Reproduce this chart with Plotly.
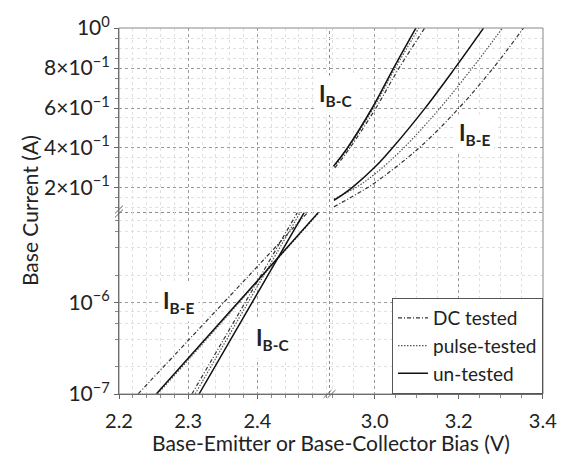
import numpy as np
import plotly.graph_objects as go

# ---------------- data ----------------
# lower-left panel (log current, 2.2-2.5 V)
v_be_dc_low = [2.2276, 2.300, 2.392, 2.4729]
i_be_dc_low = [1.0e-7, 3.86e-7, 2.15e-6, 9.8e-6]
v_be_pu_low = [2.2555, 2.302, 2.431, 2.4895]
i_be_pu_low = [1.0e-7, 2.45e-7, 3.13e-6, 9.8e-6]
v_be_un_low = [2.2539, 2.300, 2.430, 2.4883]
i_be_un_low = [1.0e-7, 2.46e-7, 3.13e-6, 9.8e-6]

v_bc_dc_low = [2.3053, 2.400, 2.458]
i_bc_dc_low = [1.0e-7, 1.71e-6, 9.8e-6]
v_bc_pu_low = [2.3100, 2.400, 2.462]
i_bc_pu_low = [1.0e-7, 1.51e-6, 9.8e-6]
v_bc_un_low = [2.3157, 2.430, 2.4678]
i_bc_un_low = [1.0e-7, 3.13e-6, 9.8e-6]

# upper-right panel (linear current, 2.9-3.4 V)
v_bc_un_high = [2.902, 2.935, 2.994, 3.045, 3.098]
i_bc_un_high = [0.309, 0.40, 0.60, 0.80, 1.00]
v_bc_pu_high = [2.903, 2.937, 2.997, 3.049, 3.105]
i_bc_pu_high = [0.305, 0.40, 0.60, 0.80, 1.00]
v_bc_dc_high = [2.905, 2.941, 3.003, 3.058, 3.119]
i_bc_dc_high = [0.300, 0.40, 0.60, 0.80, 1.00]

v_be_un_high = [2.903, 2.947, 3.000, 3.040, 3.119, 3.190, 3.259]
i_be_un_high = [0.137, 0.203, 0.303, 0.395, 0.597, 0.797, 1.00]
v_be_pu_high = [2.903, 2.957, 3.000, 3.068, 3.154, 3.227, 3.304]
i_be_pu_high = [0.145, 0.204, 0.269, 0.398, 0.596, 0.786, 1.00]
v_be_dc_high = [2.903, 2.974, 3.000, 3.1035, 3.197, 3.280, 3.354]
i_be_dc_high = [0.105, 0.190, 0.225, 0.396, 0.592, 0.795, 1.00]

x_left_ticks = [2.2, 2.3, 2.4]
x_left_text = ["2.2", "2.3", "2.4"]
x_right_ticks = [3.0, 3.2, 3.4]
x_right_text = ["3.0", "3.2", "3.4"]
y_low_ticks = [1e-7, 1e-6]
y_low_text = ["10<sup>−7</sup>", "10<sup>−6</sup>"]
y_low_minor = [2e-7, 4e-7, 6e-7, 8e-7, 2e-6, 4e-6, 6e-6, 8e-6]
y_high_ticks = [0.2, 0.4, 0.6, 0.8, 1.0]
y_high_text = ["2×10<sup>−1</sup>", "4×10<sup>−1</sup>", "6×10<sup>−1</sup>",
               "8×10<sup>−1</sup>", "10<sup>0</sup>"]

series_names = ["DC tested", "pulse-tested", "un-tested"]

# ---------------- styling ----------------
FONT = "Lato"
W, H = 569, 460
ML, MR, MT, MB = 119, 21, 21, 66
PW, PH = W - ML - MR, H - MT - MB
XS = 213 / PW          # x break (paper)
YS = 185 / PH          # y break (paper)

styles = {
    "DC tested": dict(color="#333333", width=1.2, dash="4px,2px,1px,2px"),
    "pulse-tested": dict(color="#555555", width=1.2, dash="1.5px,1.5px"),
    "un-tested": dict(color="#111111", width=1.5, dash="solid"),
}

fig = go.Figure()

low = {
    "DC tested": [(v_be_dc_low, i_be_dc_low), (v_bc_dc_low, i_bc_dc_low)],
    "pulse-tested": [(v_be_pu_low, i_be_pu_low), (v_bc_pu_low, i_bc_pu_low)],
    "un-tested": [(v_be_un_low, i_be_un_low), (v_bc_un_low, i_bc_un_low)],
}
high = {
    "DC tested": [(v_be_dc_high, i_be_dc_high), (v_bc_dc_high, i_bc_dc_high)],
    "pulse-tested": [(v_be_pu_high, i_be_pu_high), (v_bc_pu_high, i_bc_pu_high)],
    "un-tested": [(v_be_un_high, i_be_un_high), (v_bc_un_high, i_bc_un_high)],
}

for name in series_names:
    first = True
    for vx, iy in low[name]:
        fig.add_trace(go.Scatter(x=vx, y=iy, mode="lines", name=name,
                                 legendgroup=name, showlegend=first,
                                 line=styles[name], xaxis="x", yaxis="y",
                                 line_shape="spline"))
        first = False
for name in series_names:
    for vx, iy in high[name]:
        fig.add_trace(go.Scatter(x=vx, y=iy, mode="lines", name=name,
                                 legendgroup=name, showlegend=False,
                                 line=styles[name], xaxis="x2", yaxis="y2",
                                 line_shape="spline"))

# empty panels so that grids are drawn in all four quadrants
fig.add_trace(go.Scatter(x=[None], y=[None], xaxis="x", yaxis="y2",
                         showlegend=False, hoverinfo="skip"))
fig.add_trace(go.Scatter(x=[None], y=[None], xaxis="x2", yaxis="y",
                         showlegend=False, hoverinfo="skip"))

MAJ = dict(showgrid=True, gridcolor="#9a9a9a", griddash="dot", gridwidth=1,
           ticks="outside", ticklen=4, tickcolor="#666666", zeroline=False,
           showline=True, linecolor="#555555", linewidth=1)
MIN = dict(ticks="outside", ticklen=3, tickcolor="#888888",
           showgrid=True, gridcolor="#e0e0e0", gridwidth=1)
XF = dict(family=FONT, size=20, color="#222222")
YF = dict(family=FONT, size=21, color="#222222")

fig.update_layout(
    width=W, height=H,
    margin=dict(l=ML, r=MR, t=MT, b=MB),
    paper_bgcolor="white", plot_bgcolor="white",
    font=dict(family=FONT, color="#222222"),
    xaxis=dict(domain=[0, XS], range=[2.2, 2.5043], anchor="y",
               tickmode="array", tickvals=x_left_ticks, ticktext=x_left_text,
               tickfont=XF, ticklabelstandoff=5,
               minor=dict(dtick=0.02, tick0=2.2, **MIN), **MAJ),
    xaxis2=dict(domain=[XS, 1], range=[2.8925, 3.4005], anchor="y",
                tickmode="array", tickvals=x_right_ticks, ticktext=x_right_text,
                tickfont=XF, ticklabelstandoff=5,
                minor=dict(dtick=0.05, tick0=3.0, **MIN), **MAJ),
    yaxis=dict(domain=[0, YS], type="log", range=[-7, -5.01], anchor="x",
               tickmode="array", tickvals=y_low_ticks, ticktext=y_low_text,
               tickfont=YF,
               minor=dict(tickmode="array", tickvals=y_low_minor, **MIN), **MAJ),
    yaxis2=dict(domain=[YS, 1], range=[0.077, 1.0005], anchor="x",
                tickmode="array", tickvals=y_high_ticks, ticktext=y_high_text,
                tickfont=YF, minor=dict(dtick=0.05, tick0=0.0, **MIN), **MAJ),
    legend=dict(x=1, xanchor="right", y=0, yanchor="bottom",
                bgcolor="white", bordercolor="#555555", borderwidth=1,
                font=dict(family=FONT, size=19, color="#222222"),
                itemwidth=30, tracegroupgap=0),
    showlegend=True,
)

# frame and break lines
shapes = [
    dict(type="rect", xref="paper", yref="paper", x0=0, x1=1, y0=0, y1=1,
         line=dict(color="#888888", width=1), layer="above"),
    dict(type="line", xref="paper", yref="paper", x0=XS, x1=XS, y0=0, y1=1,
         line=dict(color="#8a8a8a", width=1, dash="dot"), layer="below"),
    dict(type="line", xref="paper", yref="paper", x0=0, x1=1, y0=YS, y1=YS,
         line=dict(color="#8a8a8a", width=1, dash="dot"), layer="below"),
]


def brk(cx, cy, segs):
    out = []
    for (ax, ay, bx, by) in segs:
        out.append(dict(type="line", xref="paper", yref="paper",
                        x0=cx + ax / PW, y0=cy + ay / PH,
                        x1=cx + bx / PW, y1=cy + by / PH,
                        line=dict(color="#666666", width=1), layer="above"))
    return out


shapes += brk(0, YS, [(-4, -5, 4, 3), (-4, -1, 4, 7)])
shapes += brk(XS, 0, [(-6, -4, 2, 4), (-2, -4, 6, 4)])
fig.update_layout(shapes=shapes)

lab_font = dict(family=FONT, size=22, color="#222222")
annots = [
    dict(x=2.9066, y=0.665, xref="x2", yref="y2", text="<b>I<sub>B-C</sub></b>"),
    dict(x=3.238, y=0.469, xref="x2", yref="y2", text="<b>I<sub>B-E</sub></b>"),
    dict(x=2.2857, y=np.log10(1.02e-6), xref="x", yref="y", text="<b>I<sub>B-E</sub></b>"),
    dict(x=2.4214, y=np.log10(4.0e-7), xref="x", yref="y", text="<b>I<sub>B-C</sub></b>"),
]
for a in annots:
    a.update(showarrow=False, font=lab_font, bgcolor="white", borderpad=4)
annots += [
    dict(x=0.5, y=(394 - 443) / PH, xref="paper", yref="paper",
         text="Base-Emitter or Base-Collector Bias (V)", showarrow=False,
         font=dict(family=FONT, size=21, color="#222222"),
         xanchor="center", yanchor="middle"),
    dict(x=(28 - ML) / PW, y=0.5, xref="paper", yref="paper",
         text="Base Current (A)", showarrow=False, textangle=-90,
         font=dict(family=FONT, size=21, color="#222222"),
         xanchor="center", yanchor="middle"),
]
fig.update_layout(annotations=annots)

fig.write_html("out.html")
